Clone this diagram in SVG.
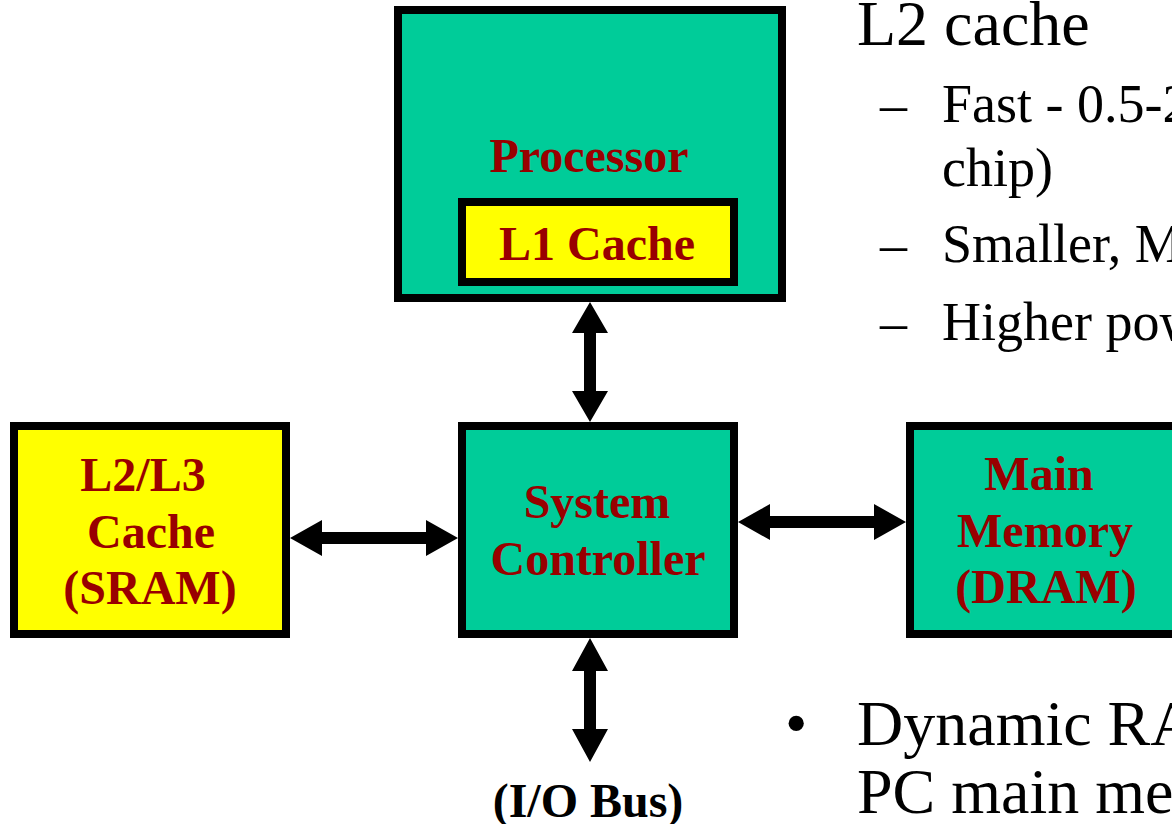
<svg xmlns="http://www.w3.org/2000/svg" width="1172" height="824" viewBox="0 0 1172 824">
  <style>
    .box { stroke: #000; stroke-width: 8; }
    .teal { fill: #00CC99; }
    .yellow { fill: #FFFF00; }
    .label { font-family: "Liberation Serif", "Times New Roman", serif; font-weight: bold; font-size: 48px; fill: #990000; text-anchor: middle; }
    .bus { font-family: "Liberation Serif", "Times New Roman", serif; font-weight: bold; font-size: 48px; fill: #000; text-anchor: middle; }
    .body { font-family: "Liberation Serif", "Times New Roman", serif; fill: #000; }
    .l1 { font-size: 64px; }
    .l2 { font-size: 54px; }
    .arrow { fill: #000; }
  </style>

  <rect width="1172" height="824" fill="#fff"/>

  <!-- Processor with on-chip L1 cache -->
  <g id="processor">
    <rect class="box teal" x="398" y="10" width="384" height="288"/>
    <text class="label" x="589" y="172">Processor</text>
  </g>
  <g id="l1-cache">
    <rect class="box yellow" x="462" y="202" width="272" height="80"/>
    <text class="label" x="597" y="260">L1 Cache</text>
  </g>

  <g id="l2-l3-cache">
    <rect class="box yellow" x="14" y="426" width="272" height="208"/>
    <text class="label" x="143" y="491">L2/L3</text>
    <text class="label" x="151" y="548">Cache</text>
    <text class="label" x="150" y="604">(SRAM)</text>
  </g>

  <g id="system-controller">
    <rect class="box teal" x="462" y="426" width="272" height="208"/>
    <text class="label" x="597" y="518">System</text>
    <text class="label" x="598" y="575">Controller</text>
  </g>

  <g id="main-memory">
    <rect class="box teal" x="910" y="426" width="272" height="208"/>
    <text class="label" x="1039" y="490">Main</text>
    <text class="label" x="1045" y="547">Memory</text>
    <text class="label" x="1046" y="603">(DRAM)</text>
  </g>

  <g id="io-bus">
    <text class="bus" x="588" y="817">(I/O Bus)</text>
  </g>

  <!-- Double-headed bus connectors -->
  <g id="connectors">
    <polygon class="arrow" points="590,302 608,333 596,333 596,391 608,391 590,422 572,391 584,391 584,333 572,333"/>
    <polygon class="arrow" points="290,538 322,520 322,532 426,532 426,520 458,538 426,556 426,544 322,544 322,556"/>
    <polygon class="arrow" points="738,522 770,504 770,516 874,516 874,504 906,522 874,540 874,528 770,528 770,540"/>
    <polygon class="arrow" points="590,638 608,671 596,671 596,729 608,729 590,762 572,729 584,729 584,671 572,671"/>
  </g>

  <!-- Slide bullet text -->
  <g id="notes" class="body">
    <text class="l1" x="857" y="45">L2 cache</text>
    <text class="l2" x="880" y="122">–</text>
    <text class="l2" x="942" y="122">Fast - 0.5-2</text>
    <text class="l2" x="942" y="186">chip)</text>
    <text class="l2" x="880" y="262">–</text>
    <text class="l2" x="942" y="262">Smaller, M</text>
    <text class="l2" x="880" y="340">–</text>
    <text class="l2" x="942" y="340">Higher pow</text>
    <text class="l1" x="785" y="745">•</text>
    <text class="l1" x="857" y="745">Dynamic RA</text>
    <text class="l1" x="857" y="813">PC main me</text>
  </g>
</svg>
